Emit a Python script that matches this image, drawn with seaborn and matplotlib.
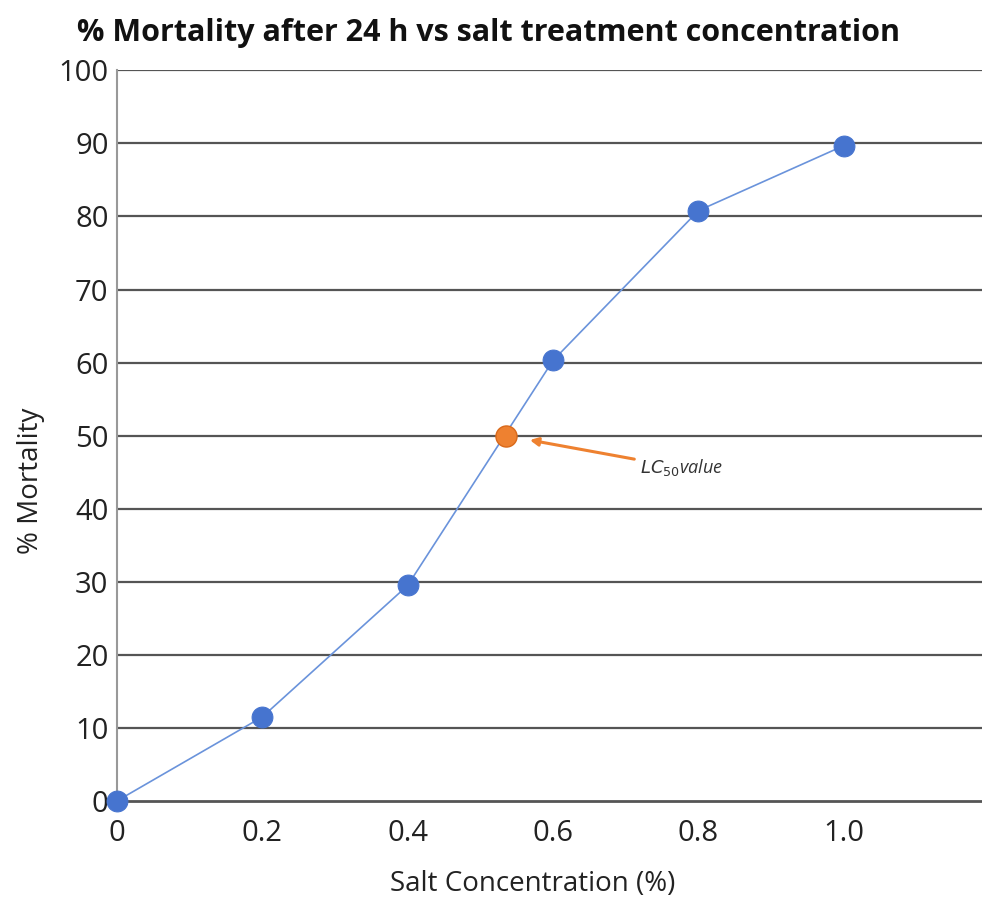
import numpy as np
import pandas as pd
import matplotlib
matplotlib.use("Agg")
import matplotlib.pyplot as plt
import seaborn as sns

# data
salt_conc = [0.0, 0.2, 0.4, 0.6, 0.8, 1.0]
mortality = [0.0, 11.5, 29.5, 60.3, 80.8, 89.7]
lc50_conc = [0.535]
lc50_mort = [50.0]
x_ticks = [0, 0.2, 0.4, 0.6, 0.8, 1.0]
x_ticklabels = ["0", "0.2", "0.4", "0.6", "0.8", "1.0"]
y_ticks = list(range(0, 101, 10))

BLUE = "#4674CF"
LINE_BLUE = "#6A93DB"
ORANGE = "#EE8130"

sns.set_style("white")
plt.rcParams['font.family'] = ['Open Sans', 'DejaVu Sans']

df = pd.DataFrame({"conc": salt_conc, "mort": mortality})
lc = pd.DataFrame({"conc": lc50_conc, "mort": lc50_mort})

fig = plt.figure(figsize=(9.82, 9.02), dpi=100)
ax = fig.add_axes([0.119, 0.112, 0.881, 0.81])

# horizontal grid lines
for y in y_ticks[1:]:
    ax.axhline(y, color="#555555", lw=1.6, zorder=0)

sns.lineplot(data=df, x="conc", y="mort", ax=ax, color=LINE_BLUE, lw=1.2,
             marker="o", markersize=15, markerfacecolor=BLUE,
             markeredgecolor=BLUE, zorder=3, clip_on=False)
sns.scatterplot(data=lc, x="conc", y="mort", ax=ax, color=ORANGE, s=230,
                edgecolor="#D9691A", linewidth=1, zorder=4)

ax.annotate("$LC_{50}$value", xy=(0.568, 49.4), xytext=(0.72, 45.6),
            fontsize=13, style="italic", color="#333333",
            ha="left", va="center",
            arrowprops=dict(arrowstyle="-|>", color=ORANGE, lw=2.2,
                            mutation_scale=12, shrinkA=2, shrinkB=0))

ax.set_xlim(0, 1.19)
ax.set_ylim(0, 100)
ax.set_xticks(x_ticks)
ax.set_xticklabels(x_ticklabels)
ax.set_yticks(y_ticks)
ax.tick_params(axis="both", labelsize=21, colors="#222222")
ax.tick_params(axis="x", direction="in", length=6, width=1.2, color="#555555", pad=13)
ax.tick_params(axis="y", length=0, pad=6)

for s in ["top", "right"]:
    ax.spines[s].set_visible(False)
ax.spines["left"].set_color("#999999")
ax.spines["left"].set_linewidth(1.5)
ax.spines["bottom"].set_color("#555555")
ax.spines["bottom"].set_linewidth(2)

ax.set_xlabel("Salt Concentration (%)", fontsize=20, color="#222222", labelpad=20)
ax.set_ylabel("% Mortality", fontsize=20, color="#222222", labelpad=10)
ax.xaxis.set_label_coords(0.481, -0.095)
ax.yaxis.label.set_y(0.438)
fig.text(0.497, 0.963, "% Mortality after 24 h vs salt treatment concentration",
         ha="center", va="center", fontsize=22, fontweight="bold", color="#111111")

fig.savefig("out.png", dpi=100, facecolor="white")
